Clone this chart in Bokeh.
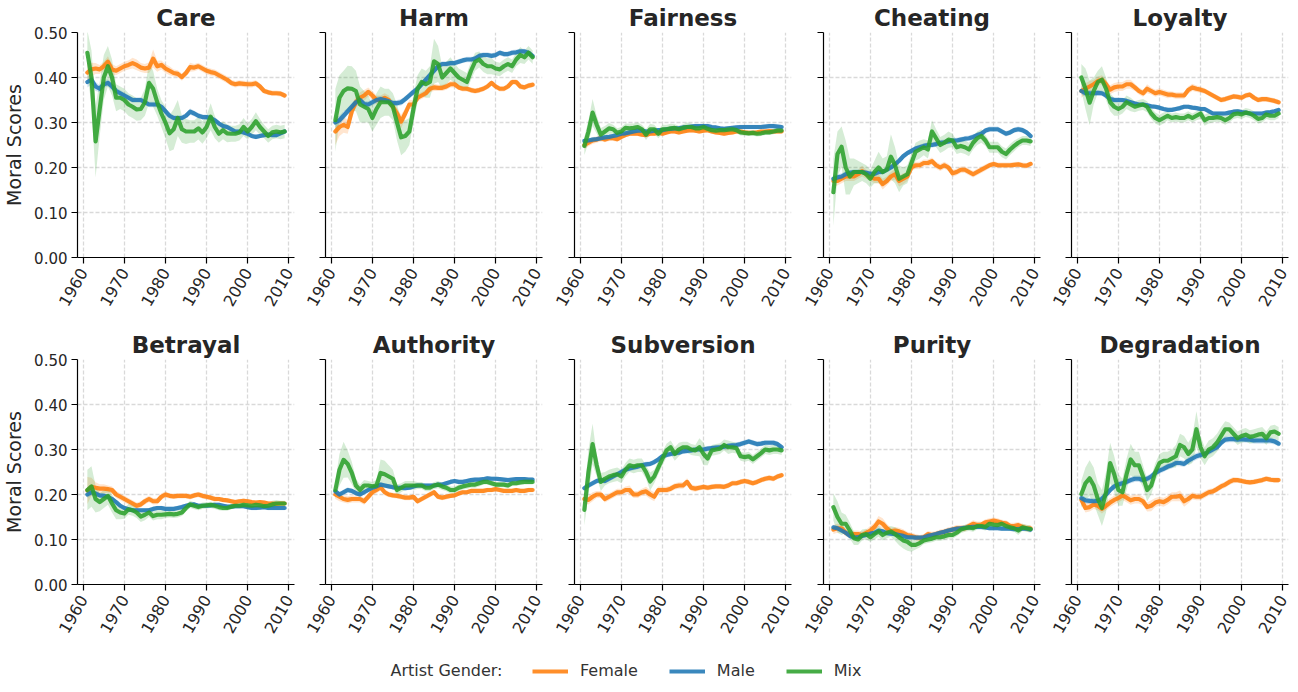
import math
from bokeh.plotting import figure
from bokeh.models import (FixedTicker, NumeralTickFormatter, Range1d, Legend, LegendItem,
                          Label, CustomJSTickFormatter)
from bokeh.layouts import column, row
from bokeh.embed import file_html
from bokeh.resources import INLINE

YEARS = list(range(1961, 2010))
X_TICKS = [1960, 1970, 1980, 1990, 2000, 2010]
Y_TICKS = [0.0, 0.1, 0.2, 0.3, 0.4, 0.5]
GENDERS = ["Female", "Male", "Mix"]
COLORS = ["#ff7f0e", "#1f77b4", "#2ca02c"]
TITLES = ["Care", "Harm", "Fairness", "Cheating", "Loyalty",
          "Betrayal", "Authority", "Subversion", "Purity", "Degradation"]

# ---------------- values (1961 .. 2009) ----------------
CARE_F = [0.411,0.418,0.42,0.418,0.425,0.435,0.418,0.415,0.42,0.425,0.428,0.432,0.428,0.422,0.42,0.422,0.442,0.425,0.428,0.42,0.415,0.41,0.408,0.401,0.41,0.423,0.422,0.425,0.42,0.415,0.412,0.41,0.405,0.40,0.395,0.388,0.385,0.387,0.386,0.385,0.385,0.387,0.38,0.37,0.367,0.365,0.365,0.364,0.36]
CARE_M = [0.39,0.395,0.38,0.375,0.385,0.388,0.38,0.37,0.365,0.36,0.355,0.35,0.35,0.35,0.345,0.34,0.34,0.34,0.335,0.325,0.315,0.31,0.31,0.31,0.315,0.324,0.32,0.315,0.312,0.312,0.31,0.305,0.298,0.292,0.29,0.285,0.28,0.28,0.278,0.275,0.27,0.268,0.27,0.272,0.273,0.272,0.272,0.276,0.28]
CARE_X = [0.455,0.40,0.258,0.33,0.40,0.425,0.40,0.355,0.355,0.35,0.34,0.335,0.329,0.33,0.345,0.388,0.375,0.345,0.32,0.30,0.276,0.285,0.31,0.285,0.28,0.28,0.28,0.287,0.278,0.29,0.313,0.29,0.275,0.283,0.276,0.275,0.275,0.278,0.29,0.28,0.29,0.303,0.29,0.28,0.27,0.278,0.28,0.278,0.28]
HARM_F = [0.28,0.29,0.295,0.29,0.325,0.345,0.355,0.36,0.368,0.36,0.35,0.35,0.355,0.35,0.335,0.32,0.302,0.32,0.34,0.34,0.355,0.36,0.365,0.375,0.378,0.377,0.377,0.38,0.385,0.385,0.378,0.375,0.375,0.372,0.37,0.372,0.375,0.38,0.388,0.38,0.375,0.375,0.38,0.39,0.39,0.38,0.378,0.382,0.384]
HARM_M = [0.30,0.305,0.315,0.325,0.335,0.345,0.35,0.341,0.34,0.345,0.35,0.352,0.35,0.347,0.343,0.343,0.345,0.352,0.36,0.368,0.375,0.385,0.395,0.405,0.415,0.425,0.43,0.43,0.432,0.432,0.435,0.438,0.44,0.44,0.442,0.448,0.45,0.45,0.448,0.45,0.455,0.452,0.452,0.455,0.456,0.458,0.458,0.455,0.448]
HARM_X = [0.305,0.355,0.37,0.376,0.375,0.37,0.34,0.335,0.33,0.31,0.33,0.345,0.345,0.345,0.335,0.30,0.267,0.27,0.28,0.33,0.375,0.39,0.385,0.39,0.436,0.43,0.40,0.41,0.42,0.41,0.40,0.395,0.39,0.415,0.435,0.44,0.43,0.425,0.425,0.42,0.418,0.425,0.43,0.425,0.44,0.45,0.445,0.455,0.445]
FAIR_F = [0.25,0.255,0.26,0.262,0.265,0.262,0.265,0.265,0.263,0.268,0.272,0.275,0.275,0.275,0.273,0.272,0.275,0.275,0.278,0.275,0.278,0.28,0.28,0.278,0.28,0.282,0.283,0.282,0.28,0.282,0.283,0.28,0.278,0.277,0.275,0.277,0.278,0.28,0.28,0.278,0.277,0.277,0.278,0.28,0.28,0.281,0.28,0.28,0.28]
FAIR_M = [0.259,0.26,0.262,0.263,0.265,0.267,0.268,0.27,0.272,0.275,0.276,0.278,0.28,0.282,0.282,0.28,0.28,0.282,0.283,0.283,0.285,0.286,0.287,0.287,0.289,0.29,0.291,0.292,0.292,0.292,0.292,0.29,0.289,0.287,0.286,0.287,0.288,0.289,0.29,0.29,0.29,0.29,0.29,0.29,0.291,0.292,0.292,0.291,0.29]
FAIR_X = [0.248,0.28,0.322,0.295,0.273,0.28,0.287,0.285,0.277,0.28,0.288,0.287,0.288,0.29,0.285,0.273,0.285,0.285,0.275,0.285,0.285,0.287,0.288,0.285,0.288,0.29,0.29,0.287,0.287,0.29,0.286,0.283,0.282,0.283,0.283,0.284,0.285,0.283,0.278,0.277,0.276,0.277,0.275,0.276,0.278,0.278,0.28,0.282,0.282]
CHEAT_F = [0.17,0.17,0.175,0.18,0.18,0.18,0.185,0.192,0.185,0.18,0.175,0.175,0.163,0.17,0.18,0.185,0.17,0.175,0.18,0.20,0.205,0.205,0.21,0.21,0.214,0.205,0.20,0.205,0.20,0.187,0.19,0.195,0.195,0.19,0.185,0.19,0.195,0.20,0.205,0.208,0.205,0.205,0.205,0.205,0.206,0.207,0.205,0.204,0.208]
CHEAT_M = [0.175,0.178,0.18,0.185,0.188,0.19,0.19,0.19,0.188,0.186,0.186,0.19,0.19,0.195,0.20,0.207,0.215,0.225,0.232,0.237,0.242,0.245,0.248,0.25,0.25,0.252,0.255,0.256,0.258,0.26,0.26,0.262,0.264,0.265,0.268,0.272,0.275,0.282,0.285,0.285,0.285,0.28,0.275,0.278,0.283,0.285,0.283,0.278,0.27]
CHEAT_X = [0.145,0.23,0.246,0.20,0.18,0.19,0.19,0.19,0.185,0.175,0.19,0.20,0.19,0.195,0.224,0.205,0.175,0.18,0.185,0.21,0.235,0.24,0.245,0.24,0.28,0.265,0.25,0.255,0.262,0.26,0.245,0.248,0.245,0.24,0.255,0.265,0.27,0.26,0.245,0.245,0.245,0.235,0.23,0.24,0.248,0.255,0.26,0.26,0.258]
LOY_F = [0.37,0.375,0.38,0.385,0.392,0.395,0.385,0.373,0.378,0.38,0.38,0.385,0.385,0.378,0.37,0.365,0.375,0.37,0.365,0.368,0.365,0.362,0.362,0.36,0.36,0.36,0.372,0.378,0.375,0.373,0.37,0.365,0.36,0.355,0.35,0.352,0.355,0.358,0.357,0.355,0.36,0.362,0.355,0.35,0.352,0.352,0.35,0.348,0.345]
LOY_M = [0.37,0.365,0.365,0.365,0.366,0.365,0.36,0.352,0.35,0.35,0.35,0.348,0.345,0.342,0.34,0.34,0.338,0.336,0.335,0.333,0.33,0.328,0.328,0.33,0.332,0.335,0.335,0.333,0.332,0.33,0.33,0.325,0.32,0.32,0.32,0.32,0.322,0.324,0.325,0.323,0.322,0.32,0.32,0.32,0.32,0.322,0.323,0.325,0.328]
LOY_X = [0.40,0.375,0.344,0.37,0.39,0.395,0.375,0.345,0.335,0.33,0.335,0.345,0.34,0.335,0.338,0.34,0.335,0.32,0.31,0.305,0.31,0.315,0.31,0.312,0.31,0.31,0.315,0.31,0.315,0.32,0.305,0.31,0.31,0.312,0.31,0.305,0.31,0.318,0.32,0.318,0.322,0.32,0.315,0.308,0.31,0.318,0.315,0.315,0.32]
BET_F = [0.209,0.217,0.215,0.213,0.213,0.212,0.21,0.20,0.195,0.19,0.185,0.18,0.175,0.178,0.185,0.19,0.185,0.185,0.195,0.20,0.197,0.196,0.197,0.197,0.197,0.195,0.198,0.20,0.197,0.195,0.193,0.19,0.19,0.188,0.187,0.185,0.183,0.185,0.186,0.185,0.183,0.182,0.183,0.182,0.18,0.18,0.179,0.18,0.18]
BET_M = [0.20,0.205,0.202,0.198,0.197,0.195,0.19,0.183,0.175,0.17,0.167,0.165,0.165,0.165,0.165,0.165,0.168,0.17,0.17,0.168,0.168,0.168,0.17,0.172,0.175,0.177,0.178,0.175,0.175,0.175,0.176,0.177,0.177,0.175,0.173,0.173,0.174,0.174,0.174,0.172,0.17,0.17,0.171,0.172,0.17,0.17,0.17,0.17,0.17]
BET_X = [0.21,0.218,0.19,0.183,0.19,0.197,0.18,0.165,0.16,0.158,0.167,0.165,0.16,0.151,0.155,0.16,0.152,0.155,0.155,0.156,0.157,0.156,0.157,0.16,0.17,0.178,0.175,0.172,0.175,0.176,0.177,0.175,0.172,0.17,0.17,0.173,0.175,0.175,0.177,0.176,0.175,0.177,0.176,0.174,0.175,0.178,0.18,0.18,0.18]
AUTH_F = [0.20,0.195,0.19,0.188,0.19,0.19,0.19,0.185,0.195,0.205,0.21,0.216,0.205,0.20,0.198,0.197,0.195,0.193,0.193,0.195,0.185,0.19,0.195,0.20,0.205,0.195,0.193,0.195,0.197,0.198,0.202,0.205,0.205,0.208,0.208,0.208,0.208,0.21,0.21,0.212,0.21,0.208,0.208,0.208,0.21,0.208,0.208,0.21,0.21]
AUTH_M = [0.207,0.20,0.205,0.21,0.208,0.203,0.20,0.205,0.21,0.215,0.218,0.222,0.22,0.218,0.216,0.215,0.215,0.214,0.215,0.218,0.22,0.22,0.22,0.22,0.22,0.222,0.222,0.225,0.228,0.23,0.228,0.228,0.23,0.232,0.233,0.233,0.234,0.236,0.235,0.235,0.234,0.233,0.232,0.233,0.234,0.234,0.234,0.233,0.233]
AUTH_X = [0.21,0.255,0.277,0.268,0.248,0.22,0.21,0.22,0.22,0.218,0.22,0.248,0.245,0.24,0.235,0.21,0.215,0.22,0.22,0.22,0.22,0.22,0.215,0.215,0.22,0.222,0.218,0.215,0.21,0.21,0.215,0.218,0.22,0.222,0.222,0.225,0.228,0.228,0.225,0.222,0.222,0.222,0.22,0.225,0.225,0.227,0.228,0.228,0.228]
SUB_F = [0.19,0.188,0.195,0.20,0.20,0.19,0.195,0.20,0.205,0.205,0.21,0.21,0.20,0.20,0.205,0.207,0.20,0.195,0.21,0.21,0.21,0.213,0.218,0.22,0.22,0.228,0.215,0.213,0.215,0.217,0.215,0.217,0.218,0.218,0.217,0.22,0.225,0.225,0.228,0.23,0.228,0.225,0.228,0.232,0.235,0.237,0.235,0.24,0.243]
SUB_M = [0.214,0.22,0.225,0.23,0.232,0.23,0.235,0.24,0.245,0.25,0.255,0.258,0.26,0.262,0.265,0.267,0.268,0.272,0.278,0.285,0.288,0.29,0.292,0.293,0.296,0.297,0.298,0.30,0.30,0.30,0.302,0.303,0.304,0.305,0.306,0.308,0.309,0.31,0.312,0.315,0.318,0.315,0.312,0.313,0.315,0.315,0.315,0.312,0.305]
SUB_X = [0.166,0.25,0.312,0.265,0.228,0.235,0.24,0.243,0.245,0.24,0.255,0.265,0.262,0.265,0.265,0.25,0.229,0.24,0.26,0.28,0.298,0.305,0.29,0.30,0.305,0.305,0.30,0.298,0.305,0.29,0.28,0.298,0.30,0.302,0.31,0.305,0.305,0.303,0.285,0.283,0.285,0.278,0.285,0.292,0.30,0.298,0.30,0.30,0.298]
PUR_F = [0.122,0.125,0.125,0.115,0.11,0.112,0.112,0.11,0.115,0.12,0.128,0.14,0.135,0.125,0.118,0.12,0.118,0.115,0.11,0.108,0.105,0.103,0.105,0.112,0.11,0.112,0.115,0.117,0.12,0.122,0.125,0.125,0.125,0.13,0.135,0.132,0.133,0.138,0.14,0.142,0.14,0.137,0.136,0.13,0.13,0.132,0.128,0.125,0.125]
PUR_M = [0.127,0.125,0.12,0.115,0.108,0.105,0.105,0.108,0.11,0.113,0.115,0.12,0.118,0.114,0.113,0.112,0.11,0.108,0.105,0.105,0.104,0.104,0.105,0.108,0.11,0.112,0.115,0.117,0.12,0.122,0.124,0.125,0.126,0.127,0.128,0.128,0.128,0.127,0.125,0.125,0.125,0.124,0.124,0.124,0.123,0.123,0.124,0.124,0.122]
PUR_X = [0.172,0.15,0.135,0.135,0.12,0.103,0.10,0.11,0.112,0.105,0.112,0.118,0.11,0.115,0.118,0.112,0.105,0.098,0.095,0.088,0.088,0.092,0.098,0.10,0.102,0.105,0.105,0.107,0.11,0.11,0.115,0.122,0.125,0.127,0.125,0.13,0.13,0.128,0.135,0.133,0.132,0.135,0.13,0.127,0.125,0.12,0.127,0.125,0.123]
DEG_F = [0.188,0.17,0.172,0.178,0.175,0.168,0.175,0.182,0.188,0.192,0.198,0.193,0.187,0.19,0.19,0.185,0.172,0.175,0.182,0.185,0.183,0.188,0.195,0.195,0.197,0.185,0.19,0.197,0.195,0.195,0.20,0.205,0.207,0.212,0.218,0.222,0.228,0.232,0.232,0.23,0.228,0.227,0.228,0.23,0.232,0.235,0.233,0.232,0.232]
DEG_M = [0.192,0.187,0.186,0.185,0.186,0.19,0.20,0.21,0.218,0.222,0.225,0.228,0.232,0.235,0.235,0.232,0.235,0.24,0.248,0.253,0.257,0.262,0.265,0.27,0.27,0.268,0.275,0.28,0.285,0.288,0.29,0.295,0.30,0.305,0.315,0.322,0.323,0.323,0.322,0.323,0.322,0.322,0.32,0.32,0.32,0.32,0.32,0.318,0.313]
DEG_X = [0.201,0.225,0.236,0.22,0.19,0.17,0.205,0.27,0.245,0.21,0.205,0.245,0.278,0.265,0.265,0.24,0.21,0.22,0.25,0.27,0.275,0.275,0.28,0.285,0.31,0.305,0.29,0.30,0.345,0.305,0.285,0.30,0.305,0.315,0.33,0.345,0.345,0.335,0.325,0.33,0.333,0.328,0.33,0.333,0.335,0.325,0.338,0.34,0.335]

# ---------------- confidence half-widths ----------------
CARE_F_CI = [0.02,0.015,0.012,0.01,0.01,0.012,0.012,0.01,0.01,0.01,0.01,0.012,0.012,0.01,0.01,0.012,0.02,0.012,0.01,0.01,0.01,0.008,0.008,0.008,0.008,0.01,0.008,0.008,0.008,0.008,0.008,0.008,0.008,0.008,0.008,0.007,0.007,0.007,0.007,0.007,0.007,0.007,0.007,0.006,0.006,0.006,0.006,0.006,0.006]
CARE_M_CI = [0.012,0.01,0.01,0.008,0.008,0.008,0.007,0.007,0.007,0.006,0.006,0.006,0.006,0.006,0.006,0.006,0.006,0.006,0.006,0.006,0.006,0.006,0.006,0.006,0.006,0.007,0.006,0.006,0.006,0.006,0.006,0.006,0.005,0.005,0.005,0.005,0.005,0.005,0.005,0.005,0.005,0.005,0.005,0.005,0.005,0.005,0.005,0.005,0.005]
CARE_X_CI = [0.05,0.06,0.08,0.06,0.05,0.045,0.04,0.03,0.025,0.025,0.025,0.025,0.025,0.025,0.03,0.045,0.04,0.03,0.03,0.035,0.04,0.045,0.04,0.03,0.028,0.025,0.025,0.025,0.025,0.025,0.03,0.025,0.02,0.02,0.02,0.018,0.018,0.018,0.02,0.018,0.018,0.02,0.018,0.015,0.015,0.015,0.015,0.015,0.015]
HARM_F_CI = [0.03,0.02,0.018,0.015,0.015,0.012,0.012,0.012,0.01,0.01,0.01,0.01,0.01,0.01,0.01,0.012,0.015,0.012,0.01,0.01,0.008,0.008,0.008,0.008,0.008,0.007,0.007,0.007,0.007,0.007,0.006,0.006,0.006,0.006,0.006,0.006,0.006,0.006,0.006,0.006,0.006,0.006,0.006,0.006,0.006,0.006,0.006,0.006,0.006]
HARM_M_CI = [0.012,0.01,0.01,0.008,0.008,0.008,0.008,0.007,0.007,0.007,0.007,0.007,0.007,0.007,0.007,0.007,0.007,0.007,0.007,0.007,0.007,0.007,0.007,0.007,0.006,0.006,0.006,0.006,0.006,0.006,0.006,0.006,0.006,0.006,0.006,0.006,0.006,0.006,0.006,0.006,0.006,0.006,0.006,0.006,0.006,0.006,0.006,0.006,0.006]
HARM_X_CI = [0.07,0.05,0.045,0.05,0.05,0.045,0.04,0.035,0.03,0.03,0.035,0.035,0.03,0.03,0.03,0.04,0.04,0.035,0.03,0.03,0.03,0.03,0.03,0.035,0.05,0.04,0.025,0.025,0.025,0.022,0.02,0.02,0.02,0.02,0.02,0.018,0.018,0.018,0.018,0.015,0.015,0.015,0.015,0.015,0.015,0.018,0.015,0.015,0.015]
FAIR_F_CI = [0.01,0.008,0.008,0.007,0.007,0.006,0.006,0.006,0.006,0.006,0.005,0.005,0.005,0.005,0.005,0.005,0.005,0.005,0.005,0.005,0.005,0.005,0.005,0.005,0.005,0.005,0.005,0.005,0.005,0.005,0.005,0.005,0.005,0.005,0.005,0.005,0.005,0.005,0.005,0.005,0.005,0.005,0.005,0.005,0.005,0.005,0.005,0.005,0.005]
FAIR_M_CI = [0.006,0.005,0.005,0.005,0.005,0.005,0.005,0.005,0.005,0.005,0.005,0.005,0.005,0.005,0.005,0.005,0.005,0.005,0.005,0.005,0.005,0.005,0.005,0.005,0.005,0.005,0.005,0.005,0.005,0.005,0.005,0.005,0.005,0.005,0.005,0.005,0.005,0.005,0.005,0.005,0.005,0.005,0.005,0.005,0.005,0.005,0.005,0.005,0.005]
FAIR_X_CI = [0.02,0.025,0.03,0.02,0.015,0.012,0.012,0.01,0.01,0.01,0.01,0.01,0.01,0.01,0.01,0.012,0.012,0.01,0.01,0.01,0.01,0.01,0.008,0.008,0.008,0.01,0.008,0.008,0.008,0.008,0.007,0.007,0.007,0.007,0.007,0.007,0.007,0.007,0.007,0.006,0.006,0.006,0.006,0.006,0.006,0.006,0.006,0.006,0.006]
CHEAT_F_CI = [0.012,0.01,0.01,0.01,0.01,0.01,0.01,0.012,0.01,0.01,0.01,0.01,0.012,0.01,0.01,0.012,0.012,0.012,0.01,0.008,0.008,0.008,0.008,0.008,0.008,0.008,0.008,0.008,0.008,0.008,0.007,0.007,0.007,0.007,0.007,0.007,0.007,0.007,0.006,0.006,0.006,0.006,0.006,0.006,0.006,0.006,0.006,0.006,0.006]
CHEAT_M_CI = [0.008,0.007,0.007,0.007,0.006,0.006,0.006,0.006,0.006,0.006,0.006,0.006,0.006,0.006,0.006,0.006,0.006,0.006,0.006,0.006,0.006,0.006,0.006,0.006,0.006,0.006,0.006,0.006,0.006,0.006,0.006,0.006,0.006,0.006,0.006,0.006,0.006,0.006,0.006,0.006,0.006,0.006,0.006,0.006,0.006,0.006,0.006,0.006,0.006]
CHEAT_X_CI = [0.075,0.05,0.045,0.06,0.04,0.03,0.025,0.02,0.02,0.02,0.025,0.035,0.03,0.03,0.05,0.04,0.03,0.02,0.02,0.02,0.02,0.02,0.018,0.02,0.025,0.02,0.018,0.018,0.018,0.015,0.015,0.015,0.015,0.015,0.015,0.015,0.015,0.012,0.012,0.012,0.012,0.012,0.012,0.012,0.012,0.01,0.01,0.01,0.01]
LOY_F_CI = [0.015,0.012,0.012,0.01,0.01,0.01,0.01,0.01,0.01,0.01,0.01,0.01,0.01,0.008,0.008,0.008,0.01,0.008,0.008,0.008,0.008,0.008,0.007,0.007,0.007,0.007,0.008,0.008,0.007,0.007,0.006,0.006,0.006,0.006,0.006,0.006,0.006,0.006,0.006,0.006,0.006,0.006,0.006,0.006,0.006,0.006,0.006,0.006,0.006]
LOY_M_CI = [0.008,0.007,0.007,0.006,0.006,0.006,0.006,0.006,0.006,0.006,0.005,0.005,0.005,0.005,0.005,0.005,0.005,0.005,0.005,0.005,0.005,0.005,0.005,0.005,0.005,0.005,0.005,0.005,0.005,0.005,0.005,0.005,0.005,0.005,0.005,0.005,0.005,0.005,0.005,0.005,0.005,0.005,0.005,0.005,0.005,0.005,0.005,0.005,0.005]
LOY_X_CI = [0.03,0.045,0.05,0.03,0.025,0.03,0.025,0.02,0.02,0.015,0.015,0.015,0.015,0.012,0.012,0.012,0.012,0.012,0.012,0.012,0.012,0.01,0.01,0.01,0.01,0.01,0.01,0.01,0.01,0.012,0.012,0.012,0.01,0.01,0.01,0.01,0.01,0.01,0.01,0.01,0.01,0.01,0.01,0.01,0.01,0.01,0.01,0.01,0.01]
BET_F_CI = [0.03,0.02,0.012,0.01,0.01,0.008,0.008,0.008,0.008,0.008,0.007,0.007,0.007,0.007,0.007,0.007,0.007,0.007,0.007,0.007,0.006,0.006,0.006,0.006,0.006,0.006,0.006,0.006,0.006,0.006,0.006,0.006,0.005,0.005,0.005,0.005,0.005,0.005,0.005,0.005,0.005,0.005,0.005,0.005,0.005,0.005,0.005,0.005,0.005]
BET_M_CI = [0.008,0.007,0.006,0.006,0.006,0.005,0.005,0.005,0.005,0.005,0.005,0.005,0.005,0.005,0.005,0.005,0.005,0.005,0.005,0.005,0.005,0.005,0.005,0.005,0.005,0.005,0.005,0.005,0.005,0.005,0.005,0.005,0.005,0.005,0.005,0.005,0.005,0.005,0.005,0.005,0.005,0.005,0.005,0.005,0.005,0.005,0.005,0.005,0.005]
BET_X_CI = [0.045,0.045,0.03,0.02,0.02,0.02,0.02,0.02,0.015,0.012,0.012,0.012,0.012,0.012,0.012,0.01,0.01,0.01,0.01,0.008,0.008,0.008,0.008,0.008,0.008,0.008,0.008,0.007,0.007,0.007,0.007,0.007,0.007,0.006,0.006,0.006,0.006,0.006,0.006,0.006,0.006,0.006,0.006,0.006,0.006,0.008,0.008,0.006,0.006]
AUTH_F_CI = [0.01,0.01,0.008,0.008,0.008,0.008,0.008,0.008,0.008,0.007,0.007,0.007,0.007,0.006,0.006,0.006,0.006,0.006,0.006,0.006,0.006,0.006,0.006,0.006,0.006,0.006,0.006,0.006,0.005,0.005,0.005,0.005,0.005,0.005,0.005,0.005,0.005,0.005,0.005,0.005,0.005,0.005,0.005,0.005,0.005,0.005,0.005,0.005,0.005]
AUTH_M_CI = [0.007,0.006,0.006,0.006,0.005,0.005,0.005,0.005,0.005,0.005,0.005,0.005,0.005,0.005,0.005,0.005,0.005,0.005,0.005,0.005,0.005,0.005,0.005,0.005,0.005,0.005,0.005,0.005,0.005,0.005,0.005,0.005,0.005,0.005,0.005,0.005,0.005,0.005,0.005,0.005,0.005,0.005,0.005,0.005,0.005,0.005,0.005,0.005,0.005]
AUTH_X_CI = [0.02,0.035,0.04,0.03,0.025,0.015,0.012,0.012,0.01,0.01,0.012,0.03,0.03,0.025,0.02,0.012,0.01,0.01,0.01,0.01,0.008,0.008,0.008,0.008,0.008,0.008,0.008,0.008,0.008,0.008,0.007,0.007,0.007,0.007,0.007,0.007,0.006,0.006,0.006,0.006,0.006,0.006,0.006,0.006,0.006,0.006,0.006,0.006,0.006]
SUB_F_CI = [0.01,0.01,0.01,0.008,0.008,0.008,0.008,0.008,0.008,0.008,0.008,0.01,0.008,0.008,0.008,0.01,0.01,0.01,0.008,0.007,0.007,0.007,0.007,0.007,0.007,0.008,0.007,0.007,0.006,0.006,0.006,0.006,0.006,0.006,0.006,0.006,0.006,0.006,0.006,0.006,0.006,0.006,0.006,0.006,0.006,0.006,0.006,0.006,0.006]
SUB_M_CI = [0.007,0.006,0.006,0.006,0.006,0.006,0.006,0.006,0.006,0.006,0.006,0.006,0.006,0.006,0.006,0.006,0.006,0.006,0.006,0.006,0.006,0.006,0.006,0.006,0.006,0.006,0.006,0.006,0.006,0.006,0.006,0.006,0.006,0.006,0.006,0.006,0.006,0.006,0.006,0.006,0.006,0.006,0.006,0.006,0.006,0.006,0.006,0.006,0.006]
SUB_X_CI = [0.035,0.05,0.045,0.025,0.02,0.015,0.015,0.015,0.015,0.015,0.015,0.015,0.015,0.015,0.015,0.015,0.02,0.015,0.015,0.015,0.015,0.015,0.015,0.015,0.012,0.012,0.012,0.012,0.02,0.025,0.015,0.012,0.012,0.012,0.012,0.015,0.012,0.012,0.01,0.01,0.01,0.01,0.01,0.01,0.01,0.01,0.01,0.01,0.01]
PUR_F_CI = [0.01,0.01,0.01,0.008,0.008,0.008,0.008,0.008,0.008,0.01,0.01,0.012,0.012,0.01,0.008,0.008,0.008,0.008,0.007,0.007,0.007,0.007,0.007,0.007,0.007,0.007,0.007,0.007,0.007,0.007,0.007,0.007,0.007,0.007,0.008,0.008,0.007,0.007,0.007,0.007,0.007,0.007,0.007,0.007,0.007,0.007,0.007,0.007,0.007]
PUR_M_CI = [0.006,0.006,0.005,0.005,0.005,0.005,0.005,0.005,0.005,0.005,0.005,0.005,0.005,0.005,0.005,0.005,0.005,0.005,0.005,0.005,0.005,0.005,0.005,0.005,0.005,0.005,0.005,0.005,0.005,0.005,0.005,0.005,0.005,0.005,0.005,0.005,0.005,0.005,0.005,0.005,0.005,0.005,0.005,0.005,0.005,0.005,0.005,0.005,0.005]
PUR_X_CI = [0.03,0.035,0.025,0.02,0.018,0.015,0.012,0.012,0.012,0.01,0.012,0.012,0.012,0.012,0.012,0.015,0.018,0.018,0.02,0.015,0.01,0.01,0.008,0.008,0.008,0.008,0.008,0.008,0.008,0.008,0.008,0.008,0.008,0.008,0.008,0.008,0.008,0.008,0.008,0.008,0.008,0.008,0.008,0.008,0.008,0.01,0.008,0.008,0.008]
DEG_F_CI = [0.012,0.01,0.01,0.01,0.01,0.01,0.01,0.01,0.01,0.01,0.01,0.01,0.01,0.01,0.01,0.01,0.01,0.012,0.01,0.01,0.01,0.01,0.01,0.01,0.012,0.012,0.01,0.008,0.008,0.008,0.008,0.007,0.007,0.007,0.007,0.007,0.007,0.007,0.006,0.006,0.006,0.006,0.006,0.006,0.006,0.006,0.006,0.006,0.006]
DEG_M_CI = [0.008,0.007,0.007,0.007,0.007,0.007,0.007,0.007,0.007,0.007,0.007,0.007,0.007,0.007,0.007,0.007,0.007,0.007,0.007,0.007,0.007,0.007,0.007,0.007,0.007,0.007,0.008,0.008,0.008,0.007,0.007,0.007,0.007,0.007,0.007,0.007,0.007,0.007,0.007,0.007,0.007,0.007,0.007,0.007,0.007,0.007,0.007,0.007,0.007]
DEG_X_CI = [0.03,0.035,0.04,0.04,0.035,0.04,0.045,0.045,0.04,0.035,0.03,0.035,0.035,0.03,0.03,0.025,0.025,0.02,0.02,0.02,0.02,0.02,0.02,0.025,0.025,0.025,0.025,0.03,0.04,0.025,0.02,0.02,0.02,0.02,0.02,0.018,0.015,0.015,0.015,0.015,0.015,0.015,0.015,0.015,0.015,0.015,0.015,0.015,0.015]

PANEL_SERIES = [
    [(CARE_F, CARE_F_CI), (CARE_M, CARE_M_CI), (CARE_X, CARE_X_CI)],
    [(HARM_F, HARM_F_CI), (HARM_M, HARM_M_CI), (HARM_X, HARM_X_CI)],
    [(FAIR_F, FAIR_F_CI), (FAIR_M, FAIR_M_CI), (FAIR_X, FAIR_X_CI)],
    [(CHEAT_F, CHEAT_F_CI), (CHEAT_M, CHEAT_M_CI), (CHEAT_X, CHEAT_X_CI)],
    [(LOY_F, LOY_F_CI), (LOY_M, LOY_M_CI), (LOY_X, LOY_X_CI)],
    [(BET_F, BET_F_CI), (BET_M, BET_M_CI), (BET_X, BET_X_CI)],
    [(AUTH_F, AUTH_F_CI), (AUTH_M, AUTH_M_CI), (AUTH_X, AUTH_X_CI)],
    [(SUB_F, SUB_F_CI), (SUB_M, SUB_M_CI), (SUB_X, SUB_X_CI)],
    [(PUR_F, PUR_F_CI), (PUR_M, PUR_M_CI), (PUR_X, PUR_X_CI)],
    [(DEG_F, DEG_F_CI), (DEG_M, DEG_M_CI), (DEG_X, DEG_X_CI)],
]

FONT = "DejaVu Sans"
TEXT = "#262626"
LEFT_BORDERS = [67, 27, 28, 28, 27]


def make_panel(idx):
    r, c = divmod(idx, 5)
    p = figure(
        frame_width=217, frame_height=225,
        x_range=Range1d(1958.6, 2011.4), y_range=Range1d(0, 0.5),
        output_backend="svg", toolbar_location=None,
        min_border_left=LEFT_BORDERS[c],
        min_border_right=4 if c < 4 else 3,
        min_border_top=31,
        min_border_bottom=70 if r == 0 else 62,
    )
    p.outline_line_color = None
    p.title.text = TITLES[idx]
    p.title.align = "center"
    p.title.text_font = FONT
    p.title.text_font_size = "23px"
    p.title.text_font_style = "bold"
    p.title.text_color = TEXT
    p.title.standoff = 4
    p.title.offset = 0

    p.xaxis.ticker = FixedTicker(ticks=X_TICKS)
    p.yaxis.ticker = FixedTicker(ticks=Y_TICKS)
    p.yaxis.formatter = NumeralTickFormatter(format="0.00")
    p.xaxis.major_label_orientation = math.radians(60)
    for ax in (p.xaxis, p.yaxis):
        ax.major_tick_in = 0
        ax.major_tick_out = 6
        ax.minor_tick_line_color = None
        ax.axis_line_color = "black"
        ax.axis_line_width = 1.2
        ax.major_tick_line_color = "black"
        ax.major_tick_line_width = 1.2
        ax.major_label_text_font = FONT
        ax.major_label_text_color = TEXT
        ax.major_label_standoff = 4
    p.xaxis.major_label_standoff = 6
    p.xaxis.major_label_text_font_size = "16px"
    p.yaxis.major_label_text_font_size = "15px"
    if c == 0:
        p.yaxis.axis_label = "Moral Scores"
        p.yaxis.axis_label_text_font = FONT
        p.yaxis.axis_label_text_font_size = "19px"
        p.yaxis.axis_label_text_font_style = "normal"
        p.yaxis.axis_label_text_color = TEXT
        p.yaxis.axis_label_standoff = 6
    else:
        p.yaxis.formatter = CustomJSTickFormatter(code="return ''")

    p.grid.grid_line_color = "#d9d9d9"
    p.grid.grid_line_dash = "4 2"
    p.grid.grid_line_width = 1.3

    for (vals, ci), color in zip(PANEL_SERIES[idx], COLORS):
        lo = [v - e for v, e in zip(vals, ci)]
        hi = [v + e for v, e in zip(vals, ci)]
        p.varea(x=YEARS, y1=lo, y2=hi, fill_color=color, fill_alpha=0.2)
    for (vals, ci), color in zip(PANEL_SERIES[idx], COLORS):
        p.line(YEARS, vals, line_color=color, line_width=4.2, line_alpha=0.88,
               line_join="round", line_cap="round")
    return p


panels = [make_panel(i) for i in range(10)]

lf = figure(width=1281, height=34, output_backend="svg", toolbar_location=None,
            x_range=Range1d(0, 1), y_range=Range1d(0, 1),
            x_axis_location=None, y_axis_location=None, min_border=0)
lf.grid.visible = False
lf.outline_line_color = None
items = []
for name, color in zip(GENDERS, COLORS):
    rr = lf.line([2, 3], [2, 2], line_color=color, line_width=4, line_alpha=0.88)
    items.append(LegendItem(label=name, renderers=[rr]))
legend = Legend(items=items, orientation="horizontal", location=(532, 0),
                glyph_width=36, glyph_height=16, label_height=16, label_standoff=12,
                spacing=31, padding=0, margin=0, border_line_color=None,
                background_fill_alpha=0, label_text_font=FONT,
                label_text_font_size="16px", label_text_color="#333333")
lf.add_layout(legend)
lf.add_layout(Label(x=390, y=10, x_units="screen", y_units="screen",
                    text="Artist Gender:", text_font=FONT, text_font_size="16px",
                    text_color="#333333", text_baseline="middle"))

layout = column(row(*panels[:5], spacing=0), row(*panels[5:], spacing=0), lf, spacing=0)

with open("out.html", "w") as f:
    f.write(file_html(layout, INLINE))
